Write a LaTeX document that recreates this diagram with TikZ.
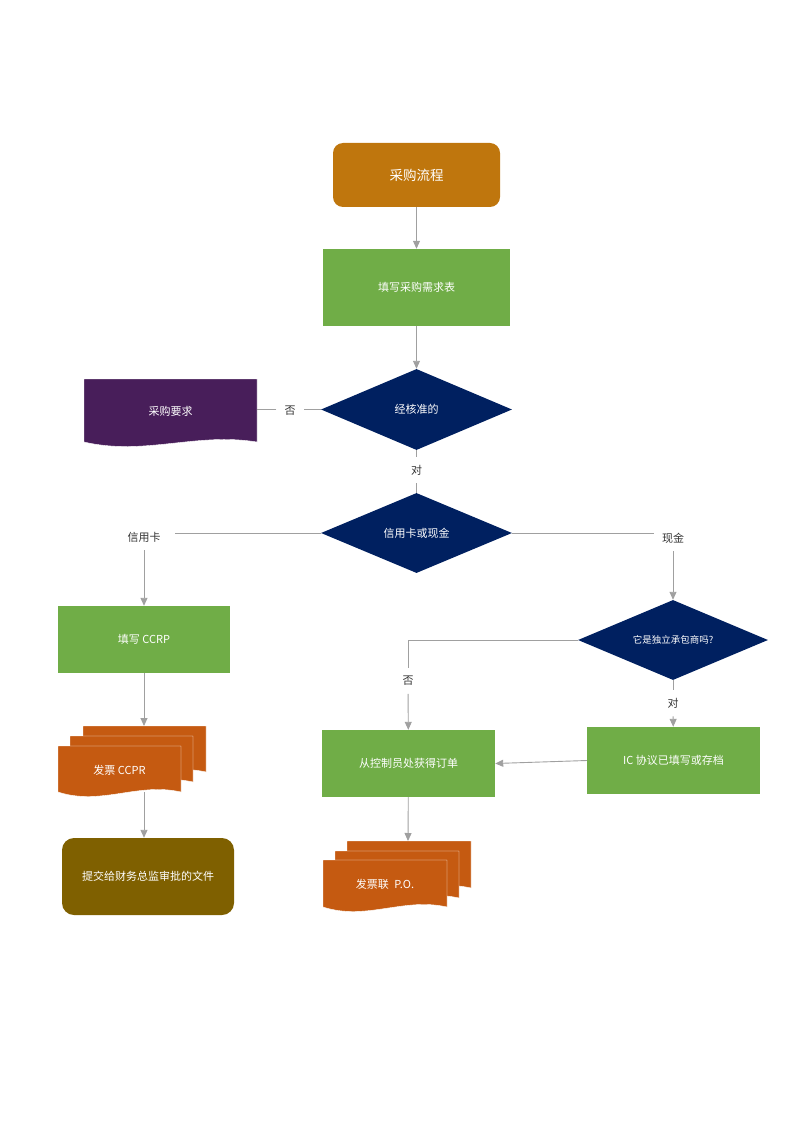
\documentclass[tikz,border=0pt]{standalone}
\usepackage{fontspec}
\setmainfont{Noto Sans CJK SC}
\usetikzlibrary{shapes.geometric,arrows.meta}

\definecolor{titleorange}{RGB}{191,118,13}
\definecolor{boxgreen}{RGB}{112,173,71}
\definecolor{navy}{RGB}{0,32,96}
\definecolor{docpurple}{RGB}{72,30,90}
\definecolor{docorange}{RGB}{197,90,17}
\definecolor{olivebox}{RGB}{127,96,0}
\definecolor{linegray}{RGB}{160,160,160}

% document shape: fill, x0, y0, width, height
\newcommand{\docshape}[5]{%
  \filldraw[fill=#1,draw=white,line width=0.4pt] (#2,#3) -- ({#2+#4},#3) -- ({#2+#4},{#3+#5})
    .. controls ({#2+0.65*#4},{#3+#5-10}) and ({#2+0.35*#4},{#3+#5+14}) .. (#2,{#3+#5}) -- cycle;}

\begin{document}
\begin{tikzpicture}
  [x=1pt,y=-1pt,
   box/.style={rectangle,fill=boxgreen,text=white,minimum width=173pt,minimum height=67pt,
     inner sep=0pt,font=\fontsize{11}{13}\selectfont},
   dec/.style={diamond,shape aspect=2.35,fill=navy,text=white,minimum width=191pt,minimum height=81pt,
     inner sep=0pt,font=\fontsize{11}{13}\selectfont},
   docnode/.style={text=white,inner sep=0pt,font=\fontsize{11}{13}\selectfont},
   lbl/.style={text=black!80,inner sep=8pt,font=\fontsize{11}{13}\selectfont},
   ln/.style={draw=linegray,line width=0.9pt},
   arr/.style={ln,-{Triangle[length=8pt,width=7pt]}}]
  \useasboundingbox (0,0) rectangle (800,1131);

  % shapes
  \node[box,fill=titleorange,rounded corners=10pt,minimum width=167pt,minimum height=64pt,
    font=\fontsize{13.5}{16}\selectfont] (start) at (416.5,175) {采购流程};
  \node[box,minimum width=187pt,minimum height=77pt] (fillreq) at (416.5,287.5) {填写采购需求表};
  \node[dec] (approved) at (416.5,409.5) {经核准的};
  \docshape{docpurple}{84}{379}{173}{63}
  \node[docnode,minimum width=173pt,minimum height=63pt] (reqdoc) at (170.5,411) {采购要求};
  \node[dec,minimum height=80pt] (paytype) at (416.5,533) {信用卡或现金};
  \node[box,minimum width=172pt] (fillccrp) at (144,639.5) {填写 CCRP};

  \docshape{docorange}{83}{726}{123}{46}
  \docshape{docorange}{70}{736}{123}{46}
  \docshape{docorange}{58}{746}{123}{46}
  \node[docnode,minimum width=123pt,minimum height=46pt] (ccpr) at (119.5,770) {发票 CCPR};
  \coordinate (ccprtop) at (144,726);
  \coordinate (ccprbot) at (144,792);

  \node[box,fill=olivebox,rounded corners=12pt,minimum width=172pt,minimum height=77pt]
    (submit) at (148,876.5) {提交给财务总监审批的文件};

  \node[dec,minimum width=190pt,minimum height=80pt,font=\fontsize{9.5}{11}\selectfont]
    (contractor) at (673,640) {它是独立承包商吗?};
  \node[box] (icdone) at (673.5,760.5) {IC 协议已填写或存档};
  \node[box] (getorder) at (408.5,763.5) {从控制员处获得订单};

  \docshape{docorange}{347}{841}{124}{47}
  \docshape{docorange}{335}{851}{124}{47}
  \docshape{docorange}{323}{860}{124}{47}
  \node[docnode,minimum width=124pt,minimum height=47pt] (po) at (385,884) {发票联\enspace P.O.};
  \coordinate (potop) at (408,841);

  % labels
  \node[lbl] (no1) at (290,411) {否};
  \node[lbl] (yes1) at (416.5,470) {对};
  \node[lbl,inner xsep=14pt] (card) at (144,537) {信用卡};
  \node[lbl] (cash) at (673,538) {现金};
  \node[lbl] (no2) at (408,681) {否};
  \node[lbl] (yes2) at (673,703) {对};

  % connectors
  \draw[arr] (start) -- (fillreq);
  \draw[arr] (fillreq) -- (approved);
  \draw[ln] (approved.west) -- (approved.west -| no1.east);
  \draw[ln] (no1.west |- approved.west) -- (approved.west -| reqdoc.east);
  \draw[ln] (approved) -- (yes1);
  \draw[ln] (yes1) -- (paytype);
  \draw[ln] (paytype.west) -- (paytype.west -| card.east);
  \draw[arr] (card.south) -- (card.south |- fillccrp.north);
  \draw[ln] (paytype.east) -- (paytype.east -| cash.west);
  \draw[arr] (cash.south) -- (cash.south |- contractor.north);
  \draw[arr] (fillccrp) -- (ccprtop);
  \draw[arr] (ccprbot) -- (ccprbot |- submit.north);
  \draw[ln] (contractor.west) -| (no2);
  \draw[arr] (no2) -- (getorder);
  \draw[ln] (contractor) -- (yes2);
  \draw[arr] (yes2) -- (icdone);
  \draw[arr] (icdone.west) -- (getorder.east);
  \draw[arr] (getorder) -- (potop);
\end{tikzpicture}
\end{document}
